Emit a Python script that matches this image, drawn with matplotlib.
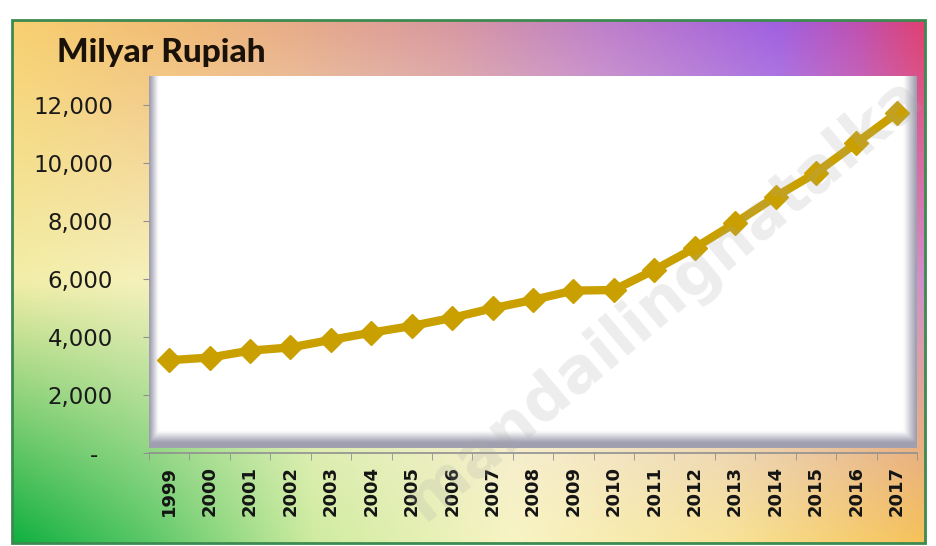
import numpy as np
import matplotlib.pyplot as plt
from matplotlib.patches import Rectangle
from matplotlib.ticker import FuncFormatter

# data (Milyar Rupiah)
years = ['1999', '2000', '2001', '2002', '2003', '2004', '2005', '2006', '2007', '2008',
         '2009', '2010', '2011', '2012', '2013', '2014', '2015', '2016', '2017']
values = [3200, 3290, 3530, 3640, 3900, 4150, 4380, 4660, 4990, 5280,
          5600, 5620, 6310, 7070, 7930, 8840, 9660, 10690, 11720]
yticks = [0, 2000, 4000, 6000, 8000, 10000, 12000]

W, H = 936, 546
fig = plt.figure(figsize=(W / 100, H / 100), dpi=100)
fig.patch.set_facecolor('white')


def px(x0, y0, x1, y1):
    # pixel box (top-left origin) -> figure fraction rect
    return [x0 / W, 1 - y1 / H, (x1 - x0) / W, (y1 - y0) / H]


def hex2rgb(h):
    h = h.lstrip('#')
    return [int(h[i:i + 2], 16) / 255 for i in (0, 2, 4)]


def row(us, cols, n):
    u = np.linspace(0, 1, n)
    c = np.array([hex2rgb(k) for k in cols])
    return np.stack([np.interp(u, us, c[:, i]) for i in range(3)], axis=-1)


# background gradient of the chart frame
nx, ny = 300, 200
top = row([0, 0.2, 0.48, 0.64, 0.84, 0.93, 1.0],
          ['#f8d070', '#f0b878', '#d898a0', '#c080c8', '#a060e0', '#c050b0', '#e04070'], nx)
mid = row([0, 0.3, 0.6, 0.85, 1.0],
          ['#f2eea8', '#faf4d0', '#f0e0e0', '#d8b8e8', '#d090c8'], nx)
bot = row([0, 0.15, 0.33, 0.55, 0.78, 1.0],
          ['#10b040', '#5cc868', '#cfeca0', '#f8f4c4', '#f8e49a', '#f6c25a'], nx)
v = np.linspace(0, 1, ny)[:, None, None]
grad = np.where(v < 0.5,
                top[None] * (1 - v / 0.5) + mid[None] * (v / 0.5),
                mid[None] * (1 - (v - 0.5) / 0.5) + bot[None] * ((v - 0.5) / 0.5))
bg = fig.add_axes(px(12, 20, 925, 543))
bg.imshow(grad, aspect='auto', extent=[0, 1, 0, 1], interpolation='bilinear')
bg.set_xlim(0, 1)
bg.set_ylim(0, 1)
bg.axis('off')
bg.add_patch(Rectangle((0, 0), 1, 1, transform=bg.transAxes, fill=False,
                       edgecolor='#3c8a50', lw=2, clip_on=False))

fig.text(57 / W, 1 - 62 / H, 'Milyar Rupiah', fontsize=24, fontweight='black',
         family='Lato', color='#1a1208', va='baseline', ha='left')

# plot area
ax = fig.add_axes(px(149, 76, 917, 453))
ax.patch.set_alpha(0)

# white box with soft grey shadow on left, bottom and right
sx, sy = 400, 200
xx = np.linspace(0, 1, sx)[None, :]
yy = np.linspace(0, 1, sy)[:, None]
d_left = np.clip(1 - (xx - 0.0) / 0.011, 0, 1)
d_right = np.clip(1 - (1 - xx) / 0.016, 0, 1)
d_bot = np.clip(1 - (yy - 0.013) / 0.03, 0, 1)
shade = np.maximum(np.maximum(d_left, d_right), d_bot) * 0.85
shade = np.broadcast_to(shade, (sy, sx))
box = np.ones((sy, sx, 4))
box[..., 0] = 1 - shade * (1 - 0.56)
box[..., 1] = 1 - shade * (1 - 0.56)
box[..., 2] = 1 - shade * (1 - 0.64)
ax.imshow(box[::-1], extent=[0, 1, 0.013, 1], transform=ax.transAxes,
          aspect='auto', interpolation='bilinear', zorder=0)

x = np.arange(len(years))
ax.plot(x, values, color='#c9a000', lw=6, marker='D', markersize=12,
        markerfacecolor='#c9a000', markeredgecolor='#c9a000',
        solid_joinstyle='round', zorder=3)

# watermark
fig.text(665 / W, 1 - 298 / H, 'mandailingnatalka', fontsize=45, rotation=40,
         color='#a8a8a8', alpha=0.2, ha='center', va='center', family='DejaVu Sans',
         fontweight='bold', zorder=10)

ax.set_xlim(-0.5, len(years) - 0.5)
ax.set_ylim(0, 13000)
ax.set_xticks(x)
ax.set_xticklabels(years, rotation=90, fontsize=13, fontweight='bold',
                   color='#141414', family='DejaVu Sans')
ax.set_xticks(np.arange(len(years) + 1) - 0.5, minor=True)
ax.tick_params(axis='x', which='major', length=0, pad=9)
ax.tick_params(axis='x', which='minor', length=5, color='#909090', direction='out')
ax.set_yticks(yticks)
ax.yaxis.set_major_formatter(FuncFormatter(lambda val, pos: '-  ' if val == 0 else f'{val:,.0f}'))
ax.tick_params(axis='y', length=4, color='#909090', pad=22, labelsize=16.5,
               labelcolor='#1a1a1a')
for lab in ax.get_yticklabels():
    lab.set_family('DejaVu Sans')

for side in ['top', 'right', 'left']:
    ax.spines[side].set_visible(False)
ax.spines['bottom'].set_color('#909090')
ax.spines['bottom'].set_linewidth(1.2)

fig.savefig('out.png', dpi=100)
